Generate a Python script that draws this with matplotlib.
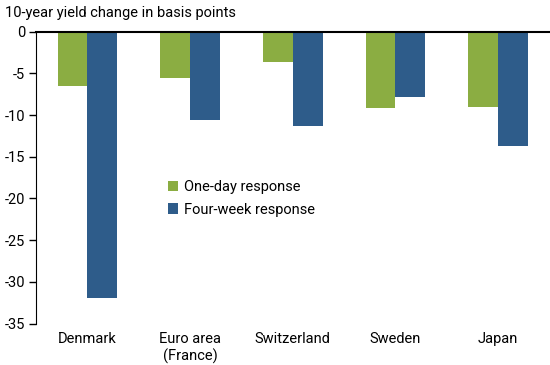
import matplotlib
matplotlib.use("Agg")
import matplotlib.pyplot as plt
import numpy as np

categories = ["Denmark", "Euro area\n(France)", "Switzerland", "Sweden", "Japan"]
one_day = [-6.5, -5.5, -3.6, -9.1, -9.0]
four_week = [-32.0, -10.6, -11.3, -7.8, -13.7]
yticks = [0, -5, -10, -15, -20, -25, -30, -35]

plt.rcParams['font.family'] = ['Roboto', 'DejaVu Sans']

fig = plt.figure(figsize=(5.5, 3.65), dpi=100)
W, H = 550, 365
ax = fig.add_axes([36 / W, 1 - 323.5 / H, (549.5 - 36) / W, (323.5 - 31.7) / H])

x = np.arange(len(categories))
bw = 0.29
green = "#8BAD42"
blue = "#2E5C8A"
ax.bar(x - bw / 2, one_day, bw, color=green, label="One-day response")
ax.bar(x + bw / 2, four_week, bw, color=blue, label="Four-week response")

ax.set_xlim(-0.5, len(categories) - 0.5)
ax.set_ylim(-35, 0)
ax.set_yticks(yticks)
ax.set_yticklabels([str(t) for t in yticks], fontsize=10.5)
ax.set_xticks(x)
ax.set_xticklabels(categories, fontsize=10.5)
ax.tick_params(axis='x', length=0, pad=6)
ax.tick_params(axis='y', direction='out', length=5, width=1, pad=3)

for s in ['right', 'bottom']:
    ax.spines[s].set_visible(False)
ax.spines['top'].set_visible(True)
ax.spines['top'].set_linewidth(1.5)
ax.spines['top'].set_color('black')
ax.spines['left'].set_color('black')

leg = ax.legend(loc='upper left', bbox_to_anchor=(0.246, 0.512), frameon=False,
                fontsize=10.5, handlelength=0.7, handleheight=0.7,
                handletextpad=0.4, labelspacing=0.6, borderaxespad=0)

fig.text(5 / W, 1 - 13 / H, "10-year yield change in basis points", fontsize=10.5,
         va='center', ha='left')

fig.savefig("out.png", dpi=100)
